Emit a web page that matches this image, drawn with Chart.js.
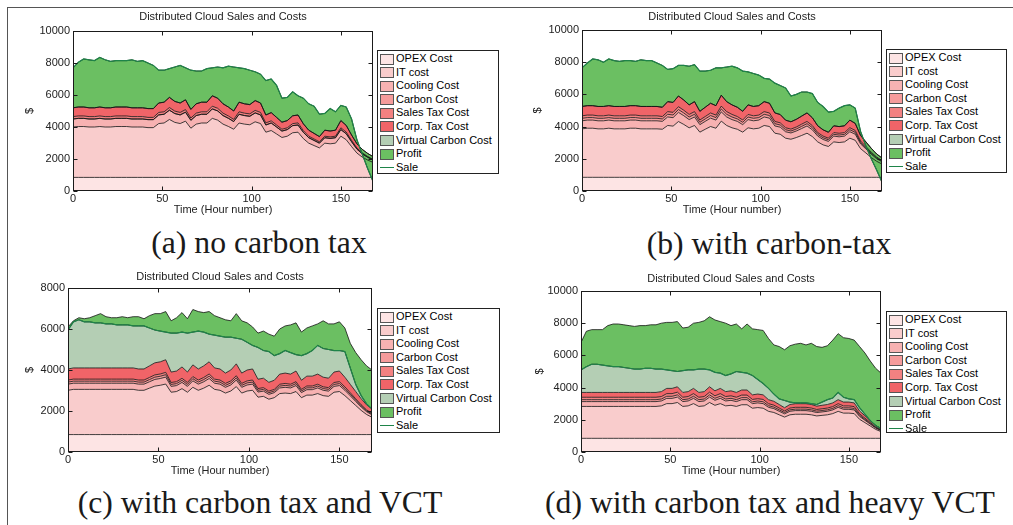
<!DOCTYPE html>
<html>
<head>
<meta charset="utf-8">
<script src="https://cdn.jsdelivr.net/npm/chart.js@4.4.1/dist/chart.umd.min.js"></script>
<style>
  html, body { margin: 0; padding: 0; background: #fff; }
  body { width: 1013px; height: 525px; position: relative; overflow: hidden; font-family: 'Liberation Sans', Arial, sans-serif; }
  .frame { position: absolute; left: 7px; top: 7px; right: -2px; bottom: -2px; border-top: 1px solid #555; border-left: 1px solid #555; }
  canvas { position: absolute; }
  .legend { position: absolute; border: 1px solid #222; background: #fff; font-size: 11px; color: #000; box-sizing: border-box; padding-top: 1px; }
  .legend .row { height: 13.6px; position: relative; white-space: nowrap; }
  .legend .sw { position: absolute; left: 2px; top: 1.5px; width: 14px; height: 11px; border: 1px solid #555; box-sizing: border-box; }
  .legend .ln { position: absolute; left: 2px; top: 6.5px; width: 14px; height: 0; border-top: 1px solid #2a8a55; }
  .legend .tx { position: absolute; left: 18px; top: 0; line-height: 13.6px; }
  .cap { position: absolute; font-family: 'Liberation Serif', 'Times New Roman', serif; font-size: 31.7px; line-height: 1; white-space: nowrap; color: #1a1a1a; transform: translateX(-50%); }
</style>
</head>
<body>
<div class="frame"></div>
<script>
'use strict';

// ── data (hour number, $) ────────────────────────────────────────────────────
const HOURS = [0,3,6,9,12,15,18,21,24,27,30,33,36,39,42,45,48,51,54,57,60,63,66,69,72,75,78,81,84,87,90,93,96,99,102,105,108,111,114,117,120,123,126,129,132,135,138,141,144,147,150,153,156,159,162,165,168];
const SERIES_NAMES = ['OPEX Cost','IT cost','Cooling Cost','Carbon Cost','Sales Tax Cost','Corp. Tax Cost','Virtual Carbon Cost','Profit'];
const SALE_NAME = 'Sale';
const CHART_TITLE = 'Distributed Cloud Sales and Costs';
const X_TITLE = 'Time (Hour number)';
const Y_TITLE = '$';
const X_TICKS = [0, 50, 100, 150];

const opex = [850,850,850,850,850,850,850,850,850,850,850,850,850,850,850,850,850,850,850,850,850,850,850,850,850,850,850,850,850,850,850,850,850,850,850,850,850,850,850,850,850,850,850,850,850,850,850,850,850,850,850,850,850,850,850,850,850];
const zeros = [0,0,0,0,0,0,0,0,0,0,0,0,0,0,0,0,0,0,0,0,0,0,0,0,0,0,0,0,0,0,0,0,0,0,0,0,0,0,0,0,0,0,0,0,0,0,0,0,0,0,0,0,0,0,0,0,0];

// (a) no carbon tax
const itA     = [3150,3180,3180,3150,3150,3180,3150,3150,3180,3180,3180,3150,3150,3150,3110,3110,3365,3400,3620,3440,3365,3515,3075,3330,3400,3400,3690,3580,3330,3185,3010,3400,3330,3290,3475,3365,2825,2930,2715,2495,2575,2790,2825,2425,2140,1990,1845,2140,2100,2140,2575,2355,1925,1520,1265,1085,940];
const coolA   = [500,510,510,500,500,510,500,500,510,510,510,500,500,500,500,500,540,545,580,550,540,560,495,535,545,545,590,575,535,510,480,545,535,530,555,540,450,470,435,400,410,445,450,390,340,320,295,340,335,340,410,375,305,245,205,175,150];
const carbonA = zeros;
const salesA  = [150,150,150,150,150,150,150,150,150,150,150,150,150,150,140,140,155,155,165,155,155,160,140,150,155,155,170,165,150,145,135,155,150,150,160,155,130,135,125,115,115,125,130,110,95,90,85,95,95,95,115,105,85,70,60,50,45];
const corpA   = [550,560,560,550,550,560,550,550,560,560,560,550,550,550,550,550,590,600,635,605,590,615,540,585,600,600,650,630,585,560,525,600,585,580,610,590,495,515,475,440,450,490,495,425,375,350,325,375,370,375,450,415,335,265,220,190,165];
const vctA    = zeros;
const profitA = [2500,2800,3000,3000,2950,3100,3000,2900,2900,2900,2900,3000,2900,2950,2850,2700,2050,2000,1800,2150,2350,2000,2450,2050,1950,2100,1750,1950,2250,2550,2750,2150,2200,2150,1800,1800,2150,2100,2000,1500,1450,1500,1200,1600,1650,1700,1400,1050,1400,1150,950,1150,1000,250,-300,-950,-1550];
const saleA   = [7700,8050,8250,8200,8150,8350,8200,8100,8150,8150,8150,8200,8100,8150,8000,7850,7550,7550,7650,7750,7850,7700,7550,7500,7500,7650,7700,7750,7700,7800,7750,7700,7650,7550,7450,7300,6900,7000,6600,5800,5850,6200,5950,5800,5450,5300,4800,4850,5150,4950,5350,5250,4500,3200,2300,1400,600];

// (b) with carbon-tax
const itB     = [3010,3050,3050,3010,3010,3050,3010,3010,3010,3050,3050,3010,3010,3010,3010,2985,3220,3180,3465,3285,3075,3220,2805,2985,3155,3050,3490,3220,3075,2985,2805,3075,3010,3050,3220,3155,2740,2675,2430,2365,2470,2600,2740,2530,2200,2015,1915,2200,2160,2200,2430,2300,1780,1510,1225,995,825];
const coolB   = [500,505,505,500,500,505,500,500,500,505,505,500,500,500,500,490,530,525,570,540,510,530,465,490,520,505,575,530,510,490,465,510,500,505,530,520,450,440,400,390,405,430,450,420,360,335,315,360,355,360,400,380,295,250,205,165,135];
const carbonB = [155,155,155,155,155,155,155,155,155,155,155,155,155,155,155,150,165,165,175,170,160,165,145,150,160,155,180,165,160,150,145,160,155,155,165,160,140,135,125,120,125,135,140,130,110,105,100,110,110,110,125,115,90,75,65,50,40];
const salesB  = [155,155,155,155,155,155,155,155,155,155,155,155,155,155,155,150,165,165,175,170,160,165,145,150,160,155,180,165,160,150,145,160,155,155,165,160,140,135,125,120,125,135,140,130,110,105,100,110,110,110,125,115,90,75,65,50,40];
const corpB   = [580,585,585,580,580,585,580,580,580,585,585,580,580,580,580,575,620,615,665,635,595,620,540,575,605,585,675,620,595,575,540,595,580,585,620,605,530,515,470,455,475,500,530,490,420,390,370,420,415,420,470,440,345,290,240,190,160];
const vctB    = zeros;
const profitB = [2400,2650,2900,2900,2750,2900,2850,2800,2850,2800,2750,2900,2850,2850,2700,2600,2000,2100,1900,2150,2400,2300,2500,2250,2050,2350,1700,2150,2400,2450,2500,2050,2050,1900,1450,1500,1850,1800,2000,1600,1550,1500,1300,1500,1450,1450,1250,900,1150,1250,950,950,250,-250,-650,-1000,-1500];
const saleB   = [7650,7950,8200,8150,8000,8200,8100,8050,8100,8100,8050,8150,8100,8100,7950,7800,7550,7600,7800,7800,7750,7850,7450,7450,7500,7650,7650,7700,7750,7650,7450,7400,7300,7200,7000,6950,6700,6550,6400,5900,6000,6150,6150,6050,5500,5250,4900,4950,5150,5300,5350,5150,3700,2800,2000,1300,550];

// (c) with carbon tax and VCT
const itC     = [2160,2205,2205,2205,2205,2205,2205,2205,2205,2205,2205,2205,2205,2160,2160,2265,2365,2405,2465,2065,2100,2240,2065,2305,2160,2265,2405,2205,2160,2025,2125,2340,2025,2125,2160,1825,1865,1725,1800,2000,2025,2000,2100,1800,1925,1925,2000,1900,1865,2065,2100,1900,1660,1420,1180,980,845];
const coolC   = [300,300,300,300,300,300,300,300,300,300,300,300,300,300,300,310,325,330,340,285,290,305,285,315,300,310,330,300,300,280,295,320,280,295,300,250,255,235,245,275,280,275,290,245,265,265,275,260,255,285,290,260,230,195,165,135,115];
const carbonC = [100,100,100,100,100,100,100,100,100,100,100,100,100,100,100,105,110,110,115,95,95,100,95,105,100,105,110,100,100,95,100,105,95,100,100,85,85,80,80,90,95,90,95,80,90,90,90,85,85,95,95,85,75,65,55,45,40];
const salesC  = [100,100,100,100,100,100,100,100,100,100,100,100,100,100,100,105,110,110,115,95,95,100,95,105,100,105,110,100,100,95,100,105,95,100,100,85,85,80,80,90,95,90,95,80,90,90,90,85,85,95,95,85,75,65,55,45,40];
const corpC   = [540,545,545,545,545,545,545,545,545,545,545,545,545,540,540,565,590,595,615,510,520,555,510,570,540,565,595,545,540,505,530,580,505,530,540,455,460,430,445,495,505,495,520,445,480,480,495,470,460,510,520,470,410,355,295,245,210];
const vctC    = [1900,2250,2350,2250,2250,2200,2200,2150,2150,2100,2100,2100,2050,2100,2100,1850,1600,1500,1350,1900,1850,1700,1900,1600,1850,1650,1350,1600,1600,1750,1600,1250,1650,1350,1150,1550,1350,1500,1200,1000,1100,1050,800,1200,1100,1250,1400,1400,1400,1050,1000,1250,800,350,150,50,0];
const profitC = [150,50,100,150,200,350,450,350,300,350,400,350,450,450,350,600,800,850,1000,600,750,950,700,1100,950,950,1100,950,900,850,800,1200,900,950,900,700,950,850,950,1200,1200,1350,1550,1150,1250,1200,1050,1350,1250,1300,1400,1150,1200,1550,1750,1850,1900];
const saleC   = [5950,6350,6450,6350,6350,6300,6300,6250,6250,6200,6200,6200,6150,6150,6150,6050,5950,5900,5850,5800,5800,5850,5800,5850,5900,5850,5750,5700,5650,5600,5600,5550,5500,5350,5200,5100,4950,4900,4700,4800,4950,4850,4750,4700,4800,4950,5200,5050,5000,4950,4950,4900,4100,3300,2750,2350,2100];

// (d) with carbon tax and heavy VCT
const itD     = [1980,1980,1980,1980,1980,1980,1980,1980,1980,1980,1980,1980,1980,1980,1980,2015,2155,2155,2225,1980,2015,2155,1980,2015,2225,2050,2155,2015,2050,1980,2085,2085,1870,1910,1870,1675,1605,1460,1320,1460,1495,1495,1495,1460,1390,1425,1460,1535,1675,1565,1565,1535,1180,975,765,555,415];
const coolD   = [300,300,300,300,300,300,300,300,300,300,300,300,300,300,300,305,325,325,335,300,305,325,300,305,335,310,325,305,310,300,315,315,285,290,285,250,240,220,200,220,225,225,225,220,210,215,220,230,250,235,235,230,180,145,115,85,65];
const carbonD = [120,120,120,120,120,120,120,120,120,120,120,120,120,120,120,120,130,130,135,120,120,130,120,120,135,125,130,120,125,120,125,125,115,115,115,100,95,90,80,90,90,90,90,90,85,85,90,90,100,95,95,90,70,60,45,35,25];
const salesD  = [150,150,150,150,150,150,150,150,150,150,150,150,150,150,150,155,165,165,170,150,155,165,150,155,170,155,165,155,155,150,160,160,145,145,145,125,120,110,100,110,115,115,115,110,105,110,110,115,125,120,120,115,90,75,60,40,30];
const corpD   = [300,300,300,300,300,300,300,300,300,300,300,300,300,300,300,305,325,325,335,300,305,325,300,305,335,310,325,305,310,300,315,315,285,290,285,250,240,220,200,220,225,225,225,220,210,215,220,230,250,235,235,230,180,145,115,85,65];
const vctD    = [1400,1600,1750,1750,1700,1650,1600,1600,1550,1500,1450,1450,1500,1500,1450,1400,1150,1100,950,1350,1350,1150,1450,1400,1050,1150,950,1000,1050,1300,1100,1050,1200,900,700,700,450,350,450,150,50,50,50,50,100,200,300,300,450,300,200,200,200,100,0,0,0];
const profitD = [1700,2200,2150,2150,2200,2500,2650,2650,2650,2650,2650,2700,2650,2700,2750,2850,2950,3000,3100,2650,2650,2900,2900,3000,3300,3250,3200,3250,3000,2950,2700,3050,2900,3100,3300,3100,3050,3250,3150,3500,3650,3700,3600,3750,3600,3400,3350,3600,3650,3700,3750,3700,3800,3800,3700,3550,3450];
const saleD   = [5100,5300,5450,5450,5400,5350,5300,5300,5250,5200,5150,5150,5200,5200,5150,5150,5100,5050,5000,5050,5100,5100,5150,5150,5100,4950,4900,4750,4850,5000,4950,4900,4750,4500,4250,3950,3600,3300,3200,3100,3050,3050,3050,3000,2950,3100,3250,3350,3700,3400,3300,3250,2750,2350,1950,1650,1450];

// ── styles ───────────────────────────────────────────────────────────────────
const FILLS      = ['#fde4e4','#f9cccc','#f7b2b2','#f59b9b','#f38181','#f06468','#b4ceb4','#6bbf62'];
const EDGE       = 'rgba(20,20,20,0.8)';
const SALE_COLOR = '#1e8449';
const INK        = '#222';

Chart.defaults.font.family = "'Liberation Sans', Arial, sans-serif";
Chart.defaults.font.size   = 11;
Chart.defaults.color       = INK;

// MATLAB-style box with inward ticks on all four sides
const boxPlugin = {
  id: 'matlabBox',
  afterDraw(chart) {
    const { ctx, chartArea: a, scales: { x, y } } = chart;
    const L = Math.round(a.left) + 0.5, R = Math.round(a.right) - 0.5;
    const T = Math.round(a.top) + 0.5,  B = Math.round(a.bottom) - 0.5;
    ctx.save();
    ctx.strokeStyle = '#1a1a1a';
    ctx.lineWidth = 1;
    ctx.strokeRect(L, T, R - L, B - T);
    ctx.beginPath();
    X_TICKS.forEach(v => {
      const px = Math.round(x.getPixelForValue(v)) + 0.5;
      ctx.moveTo(px, B); ctx.lineTo(px, B - 4);
      ctx.moveTo(px, T); ctx.lineTo(px, T + 4);
    });
    y.ticks.forEach(t => {
      const py = Math.round(y.getPixelForValue(t.value)) + 0.5;
      ctx.moveTo(L, py); ctx.lineTo(L + 4, py);
      ctx.moveTo(R, py); ctx.lineTo(R - 4, py);
    });
    ctx.stroke();
    ctx.restore();
  },
};

const panels = [
  { caption: '(a) no carbon tax', left: 13, top: 0, width: 420, height: 219, yMax: 10000,
    titleTop: 10.4, titleBottom: 7.4, yTitlePad: 10.4,
    layers: [opex, itA, coolA, carbonA, salesA, corpA, vctA, profitA], sale: saleA,
    legend: { left: 377, top: 50, width: 122, height: 124 }, cap: { x: 259, y: 227 } },
  { caption: '(b) with carbon-tax', left: 522, top: 0, width: 420, height: 219, yMax: 10000,
    titleTop: 10.4, titleBottom: 6.4, yTitlePad: 9.4,
    layers: [opex, itB, coolB, carbonB, salesB, corpB, vctB, profitB], sale: saleB,
    legend: { left: 886, top: 49, width: 121, height: 124 }, cap: { x: 769, y: 228 } },
  { caption: '(c) with carbon tax and VCT', left: 8, top: 250, width: 424, height: 230, yMax: 8000,
    titleTop: 20.4, titleBottom: 4.4, yTitlePad: 15.4,
    layers: [opex, itC, coolC, carbonC, salesC, corpC, vctC, profitC], sale: saleC,
    legend: { left: 377, top: 308, width: 123, height: 125 }, cap: { x: 260, y: 487 } },
  { caption: '(d) with carbon tax and heavy VCT', left: 521, top: 250, width: 420, height: 230, yMax: 10000,
    titleTop: 22.4, titleBottom: 5.4, yTitlePad: 12.4,
    layers: [opex, itD, coolD, carbonD, salesD, corpD, vctD, profitD], sale: saleD,
    legend: { left: 886, top: 311, width: 121, height: 122 }, cap: { x: 770, y: 487 } },
];

// stacked tops for the area fills
function cumulative(layers) {
  let acc = HOURS.map(() => 0);
  return layers.map(arr => (acc = acc.map((v, j) => v + arr[j])));
}

function buildLegend(box) {
  const el = document.createElement('div');
  el.className = 'legend';
  Object.assign(el.style, { left: box.left + 'px', top: box.top + 'px', width: box.width + 'px', height: box.height + 'px' });
  el.innerHTML = SERIES_NAMES.map((n, k) =>
    `<div class="row"><span class="sw" style="background:${FILLS[k]}"></span><span class="tx">${n}</span></div>`
  ).join('') + `<div class="row"><span class="ln" style="border-color:${SALE_COLOR}"></span><span class="tx">${SALE_NAME}</span></div>`;
  document.body.appendChild(el);
}

function buildPanel(p) {
  const canvas = document.createElement('canvas');
  canvas.width = p.width; canvas.height = p.height;
  Object.assign(canvas.style, { left: p.left + 'px', top: p.top + 'px', width: p.width + 'px', height: p.height + 'px' });
  document.body.appendChild(canvas);

  const tops = cumulative(p.layers);
  const datasets = tops.map((ys, k) => ({
    label: SERIES_NAMES[k],
    data: HOURS.map((h, j) => ({ x: h, y: ys[j] })),
    fill: k === 0 ? 'origin' : '-1',
    backgroundColor: FILLS[k],
    borderColor: EDGE,
    borderWidth: 1,
    pointRadius: 0,
    order: -k,
  }));
  datasets.push({
    label: SALE_NAME,
    data: HOURS.map((h, j) => ({ x: h, y: p.sale[j] })),
    fill: false, borderColor: SALE_COLOR, borderWidth: 1.2, pointRadius: 0, order: -20,
  });

  new Chart(canvas, {
    type: 'line',
    data: { datasets },
    options: {
      responsive: false, animation: false, devicePixelRatio: 1,
      layout: { padding: 0 },
      plugins: {
        legend: { display: false },
        tooltip: { enabled: false },
        filler: { drawTime: 'beforeDatasetsDraw' },
        title: { display: true, text: CHART_TITLE, color: INK, font: { size: 11, weight: 'normal' },
                 padding: { top: p.titleTop, bottom: p.titleBottom } },
      },
      scales: {
        x: {
          type: 'linear', min: 0, max: 168,
          grid: { display: false, drawTicks: false }, border: { display: false },
          ticks: { stepSize: 50, includeBounds: false, padding: 1, maxRotation: 0, autoSkip: false },
          title: { display: true, text: X_TITLE, padding: { top: 0, bottom: 2 } },
          afterFit(s) { s.height = 28; },
        },
        y: {
          min: 0, max: p.yMax,
          grid: { display: false, drawTicks: false }, border: { display: false },
          ticks: { stepSize: 2000, padding: 3, callback: v => String(v) },
          title: { display: true, text: Y_TITLE, padding: { top: p.yTitlePad, bottom: 0 } },
          afterFit(s) { s.width = 60; },
        },
        y2: {
          position: 'right', min: 0, max: p.yMax,
          grid: { display: false, drawTicks: false }, border: { display: false },
          ticks: { display: false },
          afterFit(s) { s.width = 60; },
        },
      },
    },
    plugins: [boxPlugin],
  });

  buildLegend(p.legend);

  const cap = document.createElement('div');
  cap.className = 'cap';
  cap.textContent = p.caption;
  Object.assign(cap.style, { left: p.cap.x + 'px', top: p.cap.y + 'px' });
  document.body.appendChild(cap);
}

panels.forEach(buildPanel);
</script>
</body>
</html>
